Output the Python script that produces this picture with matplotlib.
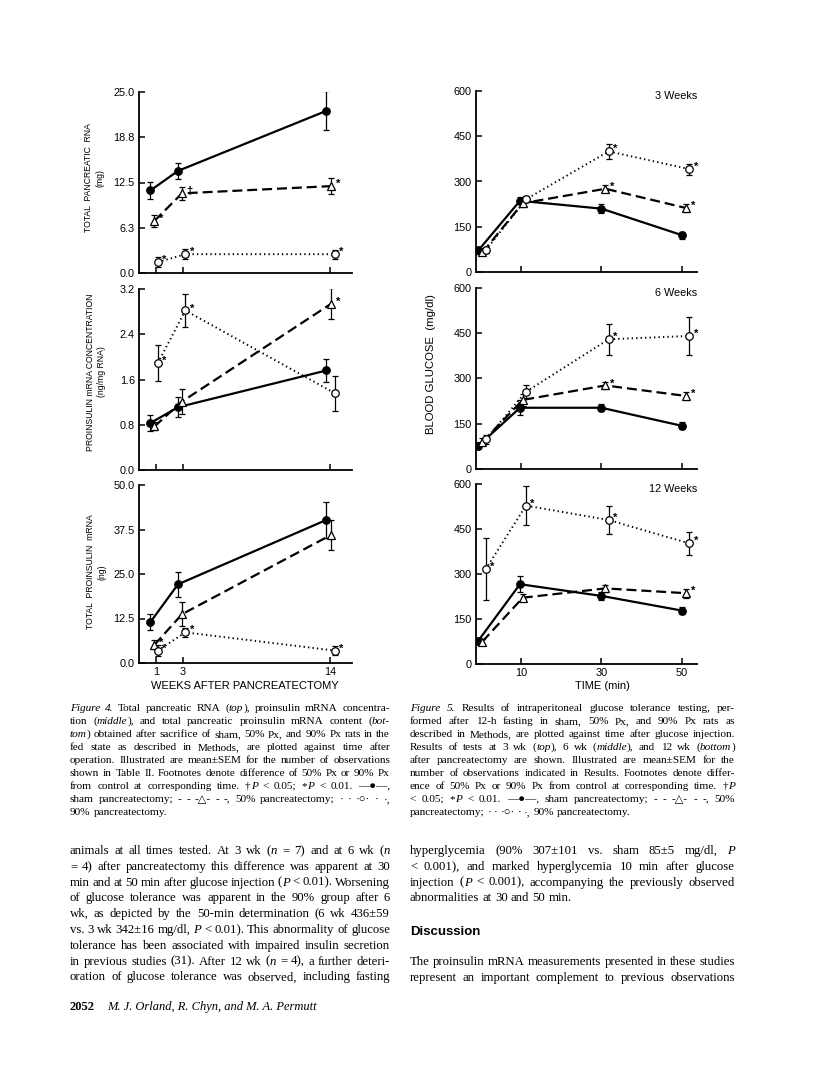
"""
Reproduce the journal page with Figures 4 and 5 (proinsulin mRNA / glucose tolerance).
"""

import matplotlib
matplotlib.use('Agg')
import matplotlib.pyplot as plt

W, H = 816, 1074
SERIF = ['Liberation Serif', 'DejaVu Serif']
SANS = ['Liberation Sans', 'DejaVu Sans']

# ---------------- Figure 4 data (weeks after pancreatectomy) ----------------
wk_ticks = [1, 3, 14]
wk_sham = [0.6, 2.65, 13.7]
wk_50 = [0.9, 2.95, 14.05]
wk_90 = [1.15, 3.2, 14.3]

rna_sham = [11.4, 14.1, 22.4]
rna_sham_err = [1.2, 1.1, 2.7]
rna_50 = [7.2, 11.0, 12.0]
rna_50_err = [0.8, 0.9, 1.1]
rna_50_marks = ['*', '†', '*']
rna_90 = [1.5, 2.6, 2.6]
rna_90_err = [0.7, 0.7, 0.6]
rna_90_marks = ['*', '*', '*']

conc_sham = [0.83, 1.11, 1.76]
conc_sham_err = [0.14, 0.18, 0.2]
conc_50 = [0.77, 1.21, 2.94]
conc_50_err = [0.07, 0.22, 0.27]
conc_50_marks = ['', '', '*']
conc_90 = [1.89, 2.82, 1.36]
conc_90_err = [0.32, 0.29, 0.31]
conc_90_marks = ['*', '*', '']

tot_sham = [11.5, 22.1, 40.2]
tot_sham_err = [2.3, 3.6, 5.0]
tot_50 = [5.1, 13.7, 36.0]
tot_50_err = [1.3, 3.4, 4.3]
tot_50_marks = ['*', '', '']
tot_90 = [3.5, 8.6, 3.5]
tot_90_err = [1.5, 1.2, 1.3]
tot_90_marks = ['*', '*', '*']

# ---------------- Figure 5 data (minutes after glucose) ----------------
t_ticks = [10, 30, 50]
t_sham = [-0.5, 9.8, 30, 50]
t_50 = [0.5, 10.5, 31, 51]
t_90 = [1.3, 11.3, 31.8, 51.8]

g3_sham = [72, 236, 210, 122]
g3_sham_err = [12, 12, 15, 12]
g3_50 = [65, 228, 276, 212]
g3_50_err = [10, 12, 12, 12]
g3_50_marks = ['', '', '*', '*']
g3_90 = [72, 241, 400, 341]
g3_90_err = [10, 10, 25, 18]
g3_90_marks = ['', '', '*', '*']

g6_sham = [77, 203, 203, 143]
g6_sham_err = [12, 25, 12, 12]
g6_50 = [90, 229, 277, 242]
g6_50_err = [12, 20, 12, 12]
g6_50_marks = ['', '', '*', '*']
g6_90 = [98, 256, 430, 441]
g6_90_err = [15, 22, 52, 62]
g6_90_marks = ['', '', '*', '*']

g12_sham = [78, 266, 227, 178]
g12_sham_err = [10, 27, 12, 12]
g12_50 = [75, 221, 252, 236]
g12_50_err = [10, 12, 12, 15]
g12_50_marks = ['', '', '', '*']
g12_90 = [316, 528, 480, 402]
g12_90_err = [104, 64, 47, 38]
g12_90_marks = ['*', '*', '*', '*']

# ---------------- page text ----------------
cap4_lines = [
    "_Figure 4._ Total pancreatic RNA (_top_), proinsulin mRNA concentra-",
    "tion (_middle_), and total pancreatic proinsulin mRNA content (_bot-_",
    "_tom_) obtained after sacrifice of sham, 50% Px, and 90% Px rats in the",
    "fed state as described in Methods, are plotted against time after",
    "operation. Illustrated are mean±SEM for the number of observations",
    "shown in Table II. Footnotes denote difference of 50% Px or 90% Px",
    "from control at corresponding time. †_P_ < 0.05; *_P_ < 0.01. —●—,",
    "sham pancreatectomy; - - -△- - -, 50% pancreatectomy; · · ·○· · ·,",
    "90% pancreatectomy.",
]
cap5_lines = [
    "_Figure 5._ Results of intraperitoneal glucose tolerance testing, per-",
    "formed after 12-h fasting in sham, 50% Px, and 90% Px rats as",
    "described in Methods, are plotted against time after glucose injection.",
    "Results of tests at 3 wk (_top_), 6 wk (_middle_), and 12 wk (_bottom_)",
    "after pancreatectomy are shown. Illustrated are mean±SEM for the",
    "number of observations indicated in Results. Footnotes denote differ-",
    "ence of 50% Px or 90% Px from control at corresponding time. †_P_",
    "< 0.05; *_P_ < 0.01. —●—, sham pancreatectomy; - - -△- - -, 50%",
    "pancreatectomy; · · ·○· · ·, 90% pancreatectomy.",
]
body_left = [
    "animals at all times tested. At 3 wk (_n_ = 7) and at 6 wk (_n_",
    "= 4) after pancreatectomy this difference was apparent at 30",
    "min and at 50 min after glucose injection (_P_ < 0.01). Worsening",
    "of glucose tolerance was apparent in the 90% group after 6",
    "wk, as depicted by the 50-min determination (6 wk 436±59",
    "vs. 3 wk 342±16 mg/dl, _P_ < 0.01). This abnormality of glucose",
    "tolerance has been associated with impaired insulin secretion",
    "in previous studies (31). After 12 wk (_n_ = 4), a further deteri-",
    "oration of glucose tolerance was observed, including fasting",
]
body_right = [
    "hyperglycemia (90% 307±101 vs. sham 85±5 mg/dl, _P_",
    "< 0.001), and marked hyperglycemia 10 min after glucose",
    "injection (_P_ < 0.001), accompanying the previously observed",
    "abnormalities at 30 and 50 min.",
]
body_right2 = [
    "The proinsulin mRNA measurements presented in these studies",
    "represent an important complement to previous observations",
]

fig = plt.figure(figsize=(W / 100, H / 100), dpi=100)
fig.patch.set_facecolor('white')
rend = fig.canvas.get_renderer()


def ax_px(x0, y0, x1, y1):
    # axes box given in page pixels (top-left origin)
    return fig.add_axes([x0 / W, 1 - y1 / H, (x1 - x0) / W, (y1 - y0) / H])


def text_line(x, y, line, width, size, justify=True, family=SERIF):
    """Draw one line of words, italic parts between underscores, optionally justified."""
    words = []
    italic = False
    for raw in line.split(' '):
        pieces = []
        for k, part in enumerate(raw.split('_')):
            if k > 0:
                italic = not italic
            if part:
                pieces.append((part, italic))
        words.append(pieces)
    objs = []
    total = 0
    for pieces in words:
        ws = []
        for txt, it in pieces:
            t = fig.text(0, 0, txt, fontsize=size, family=family,
                         style='italic' if it else 'normal', va='baseline', ha='left')
            w = t.get_window_extent(rend).width
            ws.append((t, w))
            total += w
        objs.append(ws)
    space = size * 100 / 72 * 0.25
    if justify and len(objs) > 1:
        gap = max((width - total) / (len(objs) - 1), 1.5)
    else:
        gap = space
    cx = x
    for ws in objs:
        for t, w in ws:
            t.set_position((cx / W, 1 - y / H))
            cx += w
        cx += gap


def block(x, y0, lines, width, size, lead, last_ragged=True):
    for i, ln in enumerate(lines):
        just = not (last_ragged and i == len(lines) - 1)
        text_line(x, y0 + i * lead, ln, width, size, justify=just)


def series(ax, x, y, err, marker, face, ls, marks=None):
    ax.errorbar(x, y, yerr=err, fmt='none', ecolor='black', elinewidth=0.9,
                capsize=2.2, capthick=0.9, zorder=2)
    if ls == 'solid':
        ax.plot(x, y, color='black', lw=1.6, zorder=3)
    elif ls == 'dash':
        ax.plot(x, y, color='black', lw=1.6, dashes=(4.5, 2.2), zorder=3)
    else:
        ax.plot(x, y, color='black', lw=1.4, dashes=(0.7, 1.6), zorder=3)
    ax.plot(x, y, ls='none', marker=marker, ms=5.4 if marker == 'o' else 6,
            mfc=face, mec='black', mew=0.9, zorder=4)
    if marks:
        for xi, yi, m in zip(x, y, marks):
            if m:
                ax.annotate(m, (xi, yi), xytext=(3.2, 1.5), textcoords='offset points',
                            fontsize=8, fontweight='bold', ha='left', va='center',
                            family=SANS)


def style_axes(ax, xlim, ylim, xticks, yticks, yticklabels, show_x):
    ax.set_xlim(*xlim)
    ax.set_ylim(*ylim)
    for s in ['top', 'right']:
        ax.spines[s].set_visible(False)
    for s in ['left', 'bottom']:
        ax.spines[s].set_linewidth(1.3)
    ax.set_xticks(xticks)
    ax.set_yticks(yticks)
    ax.set_yticklabels(yticklabels)
    ax.tick_params(direction='in', length=4, width=1.1, labelsize=7.8, pad=3)
    if show_x:
        ax.set_xticklabels([str(v) for v in xticks])
    else:
        ax.set_xticklabels([])
    for lab in ax.get_xticklabels() + ax.get_yticklabels():
        lab.set_family(SANS)
    ax.patch.set_alpha(0)


# ---------------- Figure 4 panels ----------------
wk_lim = (-0.25, 15.6)
ax1 = ax_px(139, 92, 352, 273)
series(ax1, wk_sham, rna_sham, rna_sham_err, 'o', 'black', 'solid')
series(ax1, wk_50, rna_50, rna_50_err, '^', 'white', 'dash', rna_50_marks)
series(ax1, wk_90, rna_90, rna_90_err, 'o', 'white', 'dot', rna_90_marks)
style_axes(ax1, wk_lim, (0, 25), wk_ticks, [0, 6.25, 12.5, 18.75, 25],
           ['0.0', '6.3', '12.5', '18.8', '25.0'], False)

ax2 = ax_px(139, 289, 352, 470)
series(ax2, wk_sham, conc_sham, conc_sham_err, 'o', 'black', 'solid')
series(ax2, wk_50, conc_50, conc_50_err, '^', 'white', 'dash', conc_50_marks)
series(ax2, wk_90, conc_90, conc_90_err, 'o', 'white', 'dot', conc_90_marks)
style_axes(ax2, wk_lim, (0, 3.2), wk_ticks, [0, 0.8, 1.6, 2.4, 3.2],
           ['0.0', '0.8', '1.6', '2.4', '3.2'], False)

ax3 = ax_px(139, 485, 352, 663)
series(ax3, wk_sham, tot_sham, tot_sham_err, 'o', 'black', 'solid')
series(ax3, wk_50, tot_50, tot_50_err, '^', 'white', 'dash', tot_50_marks)
series(ax3, wk_90, tot_90, tot_90_err, 'o', 'white', 'dot', tot_90_marks)
style_axes(ax3, wk_lim, (0, 50), wk_ticks, [0, 12.5, 25, 37.5, 50],
           ['0.0', '12.5', '25.0', '37.5', '50.0'], True)

fig.text(94 / W, 1 - 178 / H, 'TOTAL  PANCREATIC  RNA\n(mg)', rotation=90,
         ha='center', va='center', multialignment='center', fontsize=6.2, family=SANS,
         linespacing=1.3)
fig.text(96 / W, 1 - 372 / H, 'PROINSULIN mRNA CONCENTRATION\n(ng/mg RNA)', rotation=90,
         ha='center', va='center', multialignment='center', fontsize=6.2, family=SANS,
         linespacing=1.3)
fig.text(96 / W, 1 - 572 / H, 'TOTAL  PROINSULIN  mRNA\n(ng)', rotation=90,
         ha='center', va='center', multialignment='center', fontsize=6.2, family=SANS,
         linespacing=1.3)
fig.text(245 / W, 1 - 686 / H, 'WEEKS AFTER PANCREATECTOMY', ha='center', va='center',
         fontsize=8, family=SANS)

# ---------------- Figure 5 panels ----------------
t_lim = (-1.1, 53.7)
g_ticks = [0, 150, 300, 450, 600]
g_labels = ['0', '150', '300', '450', '600']
panels = [
    ((91, 272), g3_sham, g3_sham_err, g3_50, g3_50_err, g3_50_marks,
     g3_90, g3_90_err, g3_90_marks, '3 Weeks', False),
    ((288, 469), g6_sham, g6_sham_err, g6_50, g6_50_err, g6_50_marks,
     g6_90, g6_90_err, g6_90_marks, '6 Weeks', False),
    ((484, 664), g12_sham, g12_sham_err, g12_50, g12_50_err, g12_50_marks,
     g12_90, g12_90_err, g12_90_marks, '12 Weeks', True),
]
for (y0, y1), s, se, a, ae, am, b, be, bm, title, show_x in panels:
    ax = ax_px(476, y0, 697, y1)
    series(ax, t_sham, s, se, 'o', 'black', 'solid')
    series(ax, t_50, a, ae, '^', 'white', 'dash', am)
    series(ax, t_90, b, be, 'o', 'white', 'dot', bm)
    style_axes(ax, t_lim, (0, 600), t_ticks, g_ticks, g_labels, show_x)
    fig.text(697 / W, 1 - (y0 + 5) / H, title, ha='right', va='center',
             fontsize=7.8, family=SANS)

fig.text(431 / W, 1 - 364 / H, 'BLOOD GLUCOSE  (mg/dl)', rotation=90, ha='center',
         va='center', fontsize=8.2, family=SANS)
fig.text(602 / W, 1 - 686 / H, 'TIME (min)', ha='center', va='center',
         fontsize=8, family=SANS)

# ---------------- captions and body text ----------------
block(70, 711, cap4_lines, 320, 8.1, 13.0)
block(410, 711, cap5_lines, 325, 8.1, 13.0)
block(70, 854, body_left, 320, 9.2, 15.8, last_ragged=False)
block(410, 854, body_right, 325, 9.2, 15.8)
fig.text(410 / W, 1 - 935 / H, 'Discussion', fontsize=9.5, fontweight='bold',
         family=SANS, va='baseline')
block(410, 965, body_right2, 325, 9.2, 15.8, last_ragged=False)

fig.text(70 / W, 1 - 1010 / H, '2052', fontsize=9, fontweight='bold', family=SERIF,
         va='baseline')
fig.text(107 / W, 1 - 1010 / H, 'M. J. Orland, R. Chyn, and M. A. Permutt', fontsize=9,
         style='italic', family=SERIF, va='baseline')

fig.savefig('out.png', dpi=100, facecolor='white')
